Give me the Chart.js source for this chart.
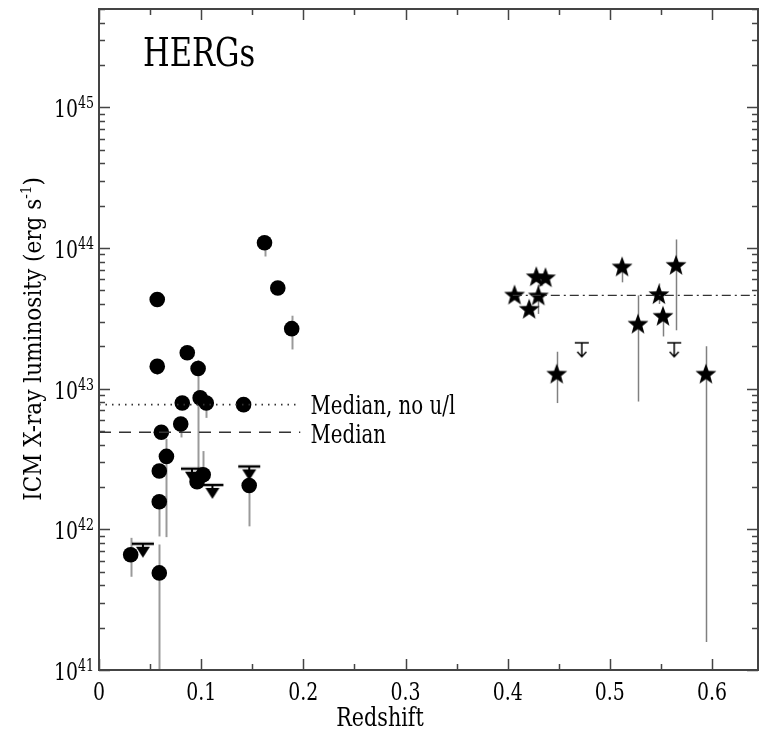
<!DOCTYPE html>
<html>
<head>
<meta charset="utf-8">
<script src="https://cdn.jsdelivr.net/npm/chart.js@4/dist/chart.umd.min.js"></script>
<style>html,body{margin:0;padding:0;background:#fff;overflow:hidden}</style>
</head>
<body>
<canvas id="myChart" width="759" height="735"></canvas>
<script>
// low redshift HERGs (circles)
const lowZ  = [0.031, 0.059, 0.059, 0.059, 0.066, 0.061, 0.080, 0.0815, 0.099, 0.105, 0.1415, 0.097, 0.0864, 0.057, 0.057, 0.162, 0.175, 0.1886, 0.096, 0.102, 0.147];
const lowL  = [6.6e41, 4.9e41, 1.57e42, 2.6e42, 3.3e42, 4.9e42, 5.6e42, 7.9e42, 8.6e42, 7.9e42, 7.7e42, 1.39e43, 1.8e43, 1.44e43, 4.3e43, 1.09e44, 5.2e43, 2.67e43, 2.18e42, 2.44e42, 2.05e42];
const lowLo = [4.6e41, 5e40, 8.9e41, null, 8.8e41, null, 4.5e42, null, null, 6.2e42, 6.8e42, 2.5e42, 1.6e43, 1.25e43, 3.8e43, 8.7e43, null, 1.9e43, null, null, 1.05e42];
const lowHi = [8.7e41, 7.8e41, null, null, 4.4e42, null, null, null, null, null, null, 1.6e43, null, null, null, null, null, 3.3e43, null, 3.6e42, null];
// upper limits, low z
const lowLimZ = [0.043, 0.091, 0.111, 0.147];
const lowLimL = [7.9e41, 2.7e42, 2.07e42, 2.8e42];

// high redshift HERGs (stars)
const highZ  = [0.4067, 0.428, 0.437, 0.430, 0.421, 0.448, 0.512, 0.5275, 0.548, 0.552, 0.5648, 0.594];
const highL  = [4.67e43, 6.3e43, 6.2e43, 4.6e43, 3.7e43, 1.28e43, 7.4e43, 2.9e43, 4.7e43, 3.3e43, 7.6e43, 1.28e43];
const highLo = [null, null, null, 3.4e43, null, 7.9e42, 5.7e43, 8.1e42, 4.0e43, 2.35e43, 2.6e43, 1.58e41];
const highHi = [null, null, null, 5.5e43, null, 1.83e43, null, 4.6e43, 5.6e43, null, 1.15e44, 2.0e43];
// upper limits, high z
const highLimZ = [0.4725, 0.563];
const highLimL = [2.12e43, 2.12e43];

// medians
const medianNoUL = 7.7e42;
const medianAll = 4.9e42;
const medianHigh = 4.6e43;
const lowMedZ = [0, 0.197];
const highMedZ = [0.405, 0.645];

// ticks
const xTickVals = [0, 0.1, 0.2, 0.3, 0.4, 0.5, 0.6];
const xTickLabels = ['0', '0.1', '0.2', '0.3', '0.4', '0.5', '0.6'];
const yTickVals = [1e41, 1e42, 1e43, 1e44, 1e45];
const yTickExps = ['41', '42', '43', '44', '45'];

const FONT = "'DejaVu Serif Condensed', 'DejaVu Serif', serif";
const TXT_K = 1.15; // vertical stretch of text

const pts = (xs, ys) => xs.map((x, i) => ({ x: x, y: ys[i] }));

// filled five point star
const makeStar = (r) => {
    const c = document.createElement('canvas');
    c.width = c.height = Math.ceil(r * 2 + 2);
    const g = c.getContext('2d');
    const cx = c.width / 2, cy = c.height / 2 + 1;
    g.beginPath();
    for (let i = 0; i < 10; i++) {
        const rr = i % 2 === 0 ? r : r * 0.42;
        const a = -Math.PI / 2 + i * Math.PI / 5;
        g.lineTo(cx + rr * Math.cos(a), cy + rr * Math.sin(a));
    }
    g.closePath();
    g.fillStyle = '#000';
    g.fill();
    return c;
};

// upper limit: bar at centre row, arrow below
const makeLimit = (bold) => {
    const c = document.createElement('canvas');
    const w = bold ? 24 : 16, h = 34;
    c.width = w; c.height = h;
    const g = c.getContext('2d');
    const cy = h / 2;
    g.fillStyle = '#000';
    g.strokeStyle = '#000';
    if (bold) {
        g.fillRect(1, cy - 1.2, 22, 2.5);
        g.fillRect(11, cy, 2, 5);
        g.beginPath();
        g.moveTo(5, cy + 3);
        g.lineTo(19, cy + 3);
        g.lineTo(12, cy + 14);
        g.closePath();
        g.fill();
    } else {
        g.lineWidth = 1.5;
        g.beginPath();
        g.moveTo(1, cy); g.lineTo(15, cy);
        g.moveTo(8, cy); g.lineTo(8, cy + 14);
        g.moveTo(3.5, cy + 9); g.lineTo(8, cy + 14); g.lineTo(12.5, cy + 9);
        g.stroke();
    }
    return c;
};

const drawText = (ctx, str, x, y, size, align) => {
    ctx.save();
    ctx.translate(x, y);
    ctx.scale(1, TXT_K);
    ctx.font = size + 'px ' + FONT;
    ctx.textAlign = align || 'left';
    ctx.textBaseline = 'alphabetic';
    ctx.fillStyle = '#000';
    ctx.fillText(str, 0, 0);
    ctx.restore();
};

const errorBars = {
    id: 'errorBars',
    beforeDatasetsDraw: (chart) => {
        const ctx = chart.ctx;
        const xs = chart.scales.x, ys = chart.scales.y, a = chart.chartArea;
        ctx.save();
        ctx.beginPath();
        ctx.rect(a.left, a.top, a.right - a.left, a.bottom - a.top);
        ctx.clip();
        const draw = (zs, ls, lo, hi, color, w) => {
            ctx.strokeStyle = color;
            ctx.lineWidth = w;
            zs.forEach((z, i) => {
                if (lo[i] === null && hi[i] === null) return;
                const px = Math.round(xs.getPixelForValue(z)) + 0.5;
                ctx.beginPath();
                ctx.moveTo(px, ys.getPixelForValue(lo[i] !== null ? lo[i] : ls[i]));
                ctx.lineTo(px, ys.getPixelForValue(hi[i] !== null ? hi[i] : ls[i]));
                ctx.stroke();
            });
        };
        draw(lowZ, lowL, lowLo, lowHi, '#9a9a9a', 2);
        draw(highZ, highL, highLo, highHi, '#808080', 1.5);
        ctx.restore();
    }
};

const frameAndText = {
    id: 'frameAndText',
    afterDraw: (chart) => {
        const ctx = chart.ctx;
        const xs = chart.scales.x, ys = chart.scales.y, a = chart.chartArea;
        ctx.save();
        ctx.strokeStyle = '#444';
        // ticks
        ctx.lineWidth = 1.5;
        ctx.beginPath();
        for (let v = 0; v <= 0.65; v += 0.05) {
            const major = Math.abs(v * 10 - Math.round(v * 10)) < 1e-6;
            const len = major ? 11 : 6;
            const px = Math.round(xs.getPixelForValue(v)) + 0.5;
            if (px > a.right - 1) continue;
            ctx.moveTo(px, a.bottom); ctx.lineTo(px, a.bottom - len);
            ctx.moveTo(px, a.top); ctx.lineTo(px, a.top + len);
        }
        for (let e = 41; e <= 45; e++) {
            for (let m = 1; m <= 9; m++) {
                const v = m * Math.pow(10, e);
                if (v > ys.max) break;
                const len = m === 1 ? 11 : 6;
                const py = Math.round(ys.getPixelForValue(v)) + 0.5;
                ctx.moveTo(a.left, py); ctx.lineTo(a.left + len, py);
                ctx.moveTo(a.right, py); ctx.lineTo(a.right - len, py);
            }
        }
        ctx.stroke();
        // frame
        ctx.lineWidth = 2;
        ctx.strokeRect(a.left, a.top, a.right - a.left, a.bottom - a.top);
        ctx.restore();

        // x tick labels
        xTickVals.forEach((v, i) => {
            drawText(ctx, xTickLabels[i], xs.getPixelForValue(v), a.bottom + 30, 21, 'center');
        });
        // y tick labels 10^n
        yTickVals.forEach((v, i) => {
            const py = ys.getPixelForValue(v);
            ctx.font = '14px ' + FONT;
            const ew = ctx.measureText(yTickExps[i]).width;
            drawText(ctx, yTickExps[i], a.left - 5 - ew, py + 1, 14, 'left');
            drawText(ctx, '10', a.left - 5 - ew, py + 10, 21, 'right');
        });
        // axis titles
        drawText(ctx, 'Redshift', 380, 726, 23, 'center');
        ctx.save();
        ctx.translate(41, 339);
        ctx.rotate(-Math.PI / 2);
        const TS = 24;
        ctx.font = TS + 'px ' + FONT;
        const main = 'ICM X-ray luminosity (erg s';
        const mw = ctx.measureText(main).width;
        ctx.font = '15px ' + FONT;
        const sw = ctx.measureText('-1').width;
        ctx.font = TS + 'px ' + FONT;
        const cw = ctx.measureText(')').width;
        const start = -(mw + sw + cw) / 2;
        ctx.scale(1, 1 / TXT_K);
        drawText(ctx, main, start, 0, TS, 'left');
        drawText(ctx, '-1', start + mw, -11, 15, 'left');
        drawText(ctx, ')', start + mw + sw, 0, TS, 'left');
        ctx.restore();
        // panel label and median labels
        drawText(ctx, 'HERGs', 143, 66, 34, 'left');
        drawText(ctx, 'Median, no u/l', xs.getPixelForValue(0.207), ys.getPixelForValue(medianNoUL) + 9, 22, 'left');
        drawText(ctx, 'Median', xs.getPixelForValue(0.207), ys.getPixelForValue(medianAll) + 11, 22, 'left');
    }
};

const ctx = document.getElementById('myChart');

const medianLine = (zs, val, dash, width) => ({
    type: 'line',
    data: pts(zs, [val, val]),
    borderColor: '#333',
    borderWidth: width,
    borderDash: dash,
    pointRadius: 0,
    showLine: true,
    fill: false
});

new Chart(ctx, {
    type: 'scatter',
    data: {
        datasets: [
            medianLine(lowMedZ, medianNoUL, [1.5, 5], 1.6),
            medianLine(lowMedZ, medianAll, [12, 8], 1.5),
            medianLine(highMedZ, medianHigh, [9, 4, 2, 4], 1.3),
            {
                data: pts(lowZ, lowL),
                pointStyle: 'circle',
                pointRadius: 7.8,
                backgroundColor: '#000',
                borderWidth: 0
            },
            {
                data: pts(highZ, highL),
                pointStyle: makeStar(11),
                pointRadius: 11
            },
            {
                data: pts(lowLimZ, lowLimL),
                pointStyle: makeLimit(true),
                pointRadius: 12
            },
            {
                data: pts(highLimZ, highLimL),
                pointStyle: makeLimit(false),
                pointRadius: 8
            }
        ]
    },
    options: {
        responsive: false,
        animation: false,
        devicePixelRatio: 1,
        layout: { autoPadding: false, padding: { left: 99, right: 1, top: 9, bottom: 65 } },
        plugins: { legend: { display: false }, tooltip: { enabled: false } },
        scales: {
            x: { type: 'linear', min: 0, max: 0.645, display: false },
            y: { type: 'logarithmic', min: 1e41, max: 5e45, display: false }
        }
    },
    plugins: [errorBars, frameAndText]
});
</script>
</body>
</html>
